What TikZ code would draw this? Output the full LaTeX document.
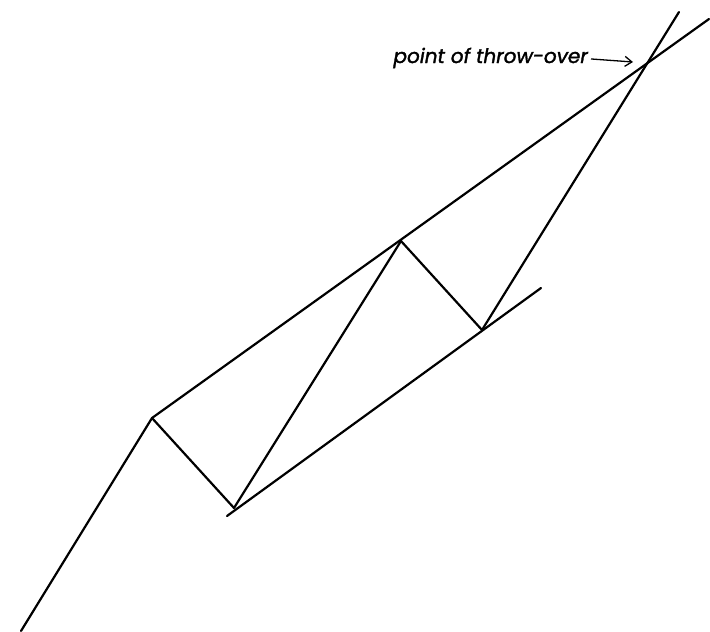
\documentclass[tikz,border=0pt]{standalone}
\usepackage{fontspec}
\setmainfont{Poppins}[ItalicFeatures={FakeBold=1.6}]
\usetikzlibrary{arrows.meta}
\begin{document}
\begin{tikzpicture}[x=1pt,y=-1pt,
  trend/.style={line width=2.2pt,line cap=round,line join=round},
  pointer/.style={line width=1.3pt,-{Straight Barb[length=7pt,width=10pt]}},
  lbl/.style={font=\itshape\fontsize{20}{23}\selectfont,inner sep=0pt,anchor=base east}]
\useasboundingbox (0,0) rectangle (710,632);
\coordinate (A) at (21,631);
\coordinate (B) at (152,418);
\coordinate (C) at (234,508);
\coordinate (D) at (401,241);
\coordinate (E) at (482,330);
\coordinate (F) at (679,12);
\coordinate (U) at (709,19);
\coordinate (L1) at (227,516);
\coordinate (L2) at (541,288);
\coordinate (X) at (633,62);
\draw[trend] (A) -- (B) -- (C) -- (D) -- (E) -- (F);
\draw[trend] (B) -- (U);
\draw[trend] (L1) -- (L2);
\node[lbl] (T) at (588,63) {point of throw-over};
\draw[pointer] (T.east) ++(3pt,-1pt) coordinate (T0) (T0) -- (X);
\end{tikzpicture}
\end{document}
